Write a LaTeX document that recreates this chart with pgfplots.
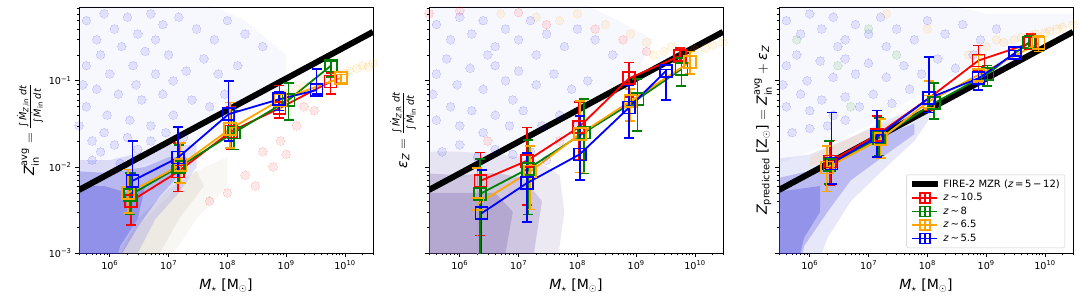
\documentclass[border=0pt]{standalone}
\usepackage{amsmath}
\usepackage{fontspec}
\setmainfont{DejaVu Sans}
\usepackage{pgfplots}
\pgfplotsset{compat=1.18}
\usepackage{pgfplotstable}

\definecolor{mred}{rgb}{1,0,0}
\definecolor{mgreen}{rgb}{0,0.5,0}
\definecolor{morange}{rgb}{1,0.647,0}
\definecolor{mblue}{rgb}{0,0,1}
\definecolor{cloudA}{rgb}{0.40,0.40,0.90}
\definecolor{cloudB}{rgb}{0.40,0.30,0.62}
\definecolor{cloudC}{rgb}{0.22,0.22,0.85}
\definecolor{tail}{rgb}{0.55,0.45,0.3}

\newcommand{\ti}[1]{\text{\itshape #1}}
\newcommand{\tr}[1]{\text{#1}}

% ---------------- panel 1 ----------------
\pgfplotstableread{
x y lo hi
2.3e6 4.0e-3 2.1e-3 8.5e-3
1.45e7 8.8e-3 5.2e-3 0.019
1.15e8 0.0258 0.016 0.050
7.7e8 0.048 0.037 0.088
5.7e9 0.098 0.070 0.123
}\pAred
\pgfplotstableread{
x y lo hi
2.2e6 4.7e-3 2.8e-3 8.5e-3
1.5e7 0.0100 0.0066 0.018
1.3e8 0.025 0.016 0.045
1.1e9 0.060 0.035 0.095
5.8e9 0.150 0.110 0.170
}\pAgreen
\pgfplotstableread{
x y lo hi
2.05e6 5.0e-3 2.9e-3 9.3e-3
1.6e7 0.0105 0.0065 0.019
1.1e8 0.0274 0.0165 0.056
7.9e8 0.060 0.045 0.075
8.5e9 0.108 0.095 0.118
}\pAorange
\pgfplotstableread{
x y lo hi
2.45e6 6.9e-3 4.0e-3 0.020
1.45e7 0.0128 0.0075 0.029
1.05e8 0.041 0.020 0.100
7.6e8 0.061 0.045 0.074
3.3e9 0.078 0.070 0.138
}\pAblue
% ---------------- panel 2 ----------------
\pgfplotstableread{
x y lo hi
2.25e6 6.9e-3 1.6e-3 0.0147
1.4e7 0.0118 3.6e-3 0.0286
1.07e8 0.029 0.012 0.057
7.6e8 0.107 0.065 0.163
5.6e9 0.195 0.170 0.240
}\pBred
\pgfplotstableread{
x y lo hi
2.2e6 4.85e-3 5e-4 0.0123
1.45e7 0.0095 2.8e-3 0.0206
1.3e8 0.025 8.4e-3 0.061
1.05e9 0.061 0.026 0.105
5.9e9 0.137 0.087 0.185
}\pBgreen
\pgfplotstableread{
x y lo hi
2.0e6 3.7e-3 5e-4 9.7e-3
1.57e7 0.0088 3.2e-3 0.0175
1.1e8 0.024 8.6e-3 0.058
8.0e8 0.058 0.034 0.080
8.2e9 0.165 0.120 0.220
}\pBorange
\pgfplotstableread{
x y lo hi
2.36e6 2.9e-3 5e-4 9.2e-3
1.4e7 6.5e-3 2.3e-3 0.0144
1.1e8 0.014 7.1e-3 0.039
7.6e8 0.049 0.0216 0.090
3.2e9 0.130 0.060 0.135
}\pBblue
% ---------------- panel 3 ----------------
\pgfplotstableread{
x y lo hi
2.2e6 0.0115 6.2e-3 0.0202
1.4e7 0.0236 0.0132 0.039
1.07e8 0.063 0.046 0.100
7.4e8 0.172 0.134 0.258
5.7e9 0.274 0.230 0.350
}\pCred
\pgfplotstableread{
x y lo hi
2.15e6 0.0105 6.3e-3 0.020
1.5e7 0.0215 0.0135 0.037
1.3e8 0.055 0.036 0.094
1.05e9 0.120 0.087 0.150
5.4e9 0.280 0.240 0.330
}\pCgreen
\pgfplotstableread{
x y lo hi
1.95e6 9.8e-3 5.2e-3 0.0175
1.6e7 0.021 0.0126 0.036
1.05e8 0.0575 0.047 0.100
7.4e8 0.117 0.095 0.200
7.8e9 0.274 0.220 0.330
}\pCorange
\pgfplotstableread{
x y lo hi
2.35e6 0.011 6.3e-3 0.043
1.4e7 0.0225 0.013 0.045
1.07e8 0.063 0.043 0.190
7.4e8 0.107 0.0785 0.125
3.1e9 0.210 0.195 0.225
}\pCblue

\pgfplotsset{
    width=294pt, height=246pt, scale only axis,
    xmin=3e5, xmax=3e10, ymin=1e-3, ymax=0.72,
    tick pos=left, tick align=outside,
    major tick length=4pt, minor tick length=2.3pt,
    every tick/.append style={black, line width=0.8pt},
    every minor tick/.append style={line width=0.6pt},
    axis line style={line width=0.8pt},
    xtick={1e6,1e7,1e8,1e9,1e10},
    xticklabels={10\textsuperscript{6},10\textsuperscript{7},10\textsuperscript{8},10\textsuperscript{9},10\textsuperscript{10}},
    minor xtick={3e5,4e5,5e5,6e5,7e5,8e5,9e5,2e6,3e6,4e6,5e6,6e6,7e6,8e6,9e6,2e7,3e7,4e7,5e7,6e7,7e7,8e7,9e7,2e8,3e8,4e8,5e8,6e8,7e8,8e8,9e8,2e9,3e9,4e9,5e9,6e9,7e9,8e9,9e9,2e10,3e10},
    ytick={1e-3,1e-2,1e-1},
    minor ytick={2e-3,3e-3,4e-3,5e-3,6e-3,7e-3,8e-3,9e-3,2e-2,3e-2,4e-2,5e-2,6e-2,7e-2,8e-2,9e-2,2e-1,3e-1,4e-1,5e-1,6e-1,7e-1},
    tick label style={font=\fontsize{9.6}{11}\selectfont},
    label style={font=\fontsize{14}{16}\selectfont},
    xlabel={$\ti{M}_\star$ [M$_\odot$]},
    xlabel style={at={(axis description cs:0.5,-0.134)}, anchor=center},
}
\pgfplotsset{
  /pgfplots/errleg/.style={legend image code/.code={%
    \draw[##1, mark=none] (0pt,0pt) -- (25pt,0pt);
    \draw[##1, mark=none] (12.5pt,-5pt) -- (12.5pt,5pt);
    \draw[##1, mark size=5pt] plot coordinates {(12.5pt,0pt)};}},
  /pgfplots/lineleg/.style={legend image code/.code={%
    \draw[##1] (0pt,0pt) -- (26pt,0pt);}},
  /pgfplots/dots/.style={only marks, mark=*, mark size=4.3pt, forget plot, color=#1,
    mark options={fill=#1, draw=#1, line width=0pt, opacity=0.09}},
  /pgfplots/blob/.style={draw=none, fill=#1, forget plot},
  /pgfplots/ser/.style={color=#1, line width=1.8pt, mark=square, mark size=6pt,
    mark options={solid, fill=none, line width=1.6pt}},
  /pgfplots/eb/.style={error bars/y dir=both, error bars/y explicit,
    error bars/error bar style={line width=1.6pt},
    error bars/error mark options={rotate=90, line width=1.6pt, mark size=5pt}},
}

\begin{document}
\begin{tikzpicture}
\useasboundingbox (-79pt,-49pt) rectangle (1001pt,253pt);

% ================= Panel 1 =================
\begin{loglogaxis}[at={(0pt,0pt)}, anchor=south west,
  yticklabels={10\textsuperscript{−3},10\textsuperscript{−2},10\textsuperscript{−1}},
  ylabel={$\ti{Z}^{\tr{avg}}_{\tr{in}} = \frac{\tr{∫}\,\dot{\ti{M}}_{\ti{Z},\tr{in}}\;\ti{dt}}{\tr{∫}\,\dot{\ti{M}}_{\tr{in}}\;\ti{dt}}$},
  ylabel style={at={(axis description cs:-0.167,0.5)}, anchor=center}]
\addplot[blob=cloudA, fill opacity=0.05] coordinates {(2e5,6e-3) (2e5,0.9) (3e7,0.9) (2e8,0.5) (1e9,0.2) (1e9,0.08) (1e8,0.03) (1e7,0.013) (1e6,0.008) (2e5,6e-3)};
\addplot[dots=mblue] coordinates {(4e5,0.5) (6e5,0.3) (8e5,0.6) (1.2e6,0.4) (2e6,0.55) (3e6,0.35) (5e6,0.6) (8e6,0.45) (1.5e7,0.55) (3e7,0.4) (6e7,0.3) (1e8,0.5) (2e8,0.35) (4e8,0.25) (4e5,0.15) (7e5,0.2) (1e6,0.12) (1.6e6,0.25) (2.5e6,0.15) (4e6,0.22) (6e6,0.12) (1e7,0.2) (2e7,0.13) (4e7,0.18) (7e7,0.12) (1.5e8,0.15) (4e5,0.05) (6e5,0.08) (9e5,0.04) (1.4e6,0.07) (2.2e6,0.035) (3.5e6,0.06) (5e6,0.03) (8e6,0.07) (1.2e7,0.04) (2.5e7,0.06) (5e7,0.05) (9e7,0.07) (5e5,0.02) (8e5,0.025) (1.2e6,0.018) (2e6,0.022) (3e6,0.016) (5e6,0.02) (9e6,0.025) (1.8e7,0.022) (3.5e5,0.09) (5e5,0.012) (7e5,0.015) (1.5e6,0.011) (3e5,0.03) (2.8e6,0.09) (6e6,0.3) (1.2e7,0.1)};
\addplot[dots=mred] coordinates {(2e8,0.008) (4e8,0.015) (8e8,0.02) (1.5e9,0.03) (3e9,0.045) (6e8,0.01) (1e8,0.005) (2e9,0.05) (5e7,0.004) (3e8,0.006) (1e9,0.014)};
\addplot[dots=morange] coordinates {(1e9,0.07) (2e9,0.085) (4e9,0.1) (7e9,0.12) (1.2e10,0.13) (2e10,0.15) (3e10,0.16) (1.5e9,0.08) (3e9,0.09) (6e9,0.11) (1e10,0.12) (1.6e10,0.14) (2.5e10,0.145)};
\addplot[blob=tail, fill opacity=0.06] coordinates {(5e5,4e-4) (2e6,1.5e-3) (8e6,4e-3) (3e7,9e-3) (1e8,0.013) (1e8,6e-3) (3e7,2.5e-3) (1e7,8e-4) (6e6,4e-4)};
\addplot[blob=tail, fill opacity=0.1] coordinates {(8e5,4e-4) (3e6,2.5e-3) (1e7,5.5e-3) (3e7,9e-3) (4e7,6e-3) (1.5e7,2.5e-3) (6e6,8e-4) (4e6,4e-4)};
\addplot[blob=cloudC, fill opacity=0.15] coordinates {(2e5,4e-4) (2e5,0.012) (1e6,0.012) (4e6,0.015) (1e7,0.018) (3e7,0.018) (3e7,0.01) (1.5e7,0.005) (6e6,0.0025) (3e6,1e-3) (1.5e6,4e-4)};
\addplot[blob=cloudC, fill opacity=0.25] coordinates {(2e5,4e-4) (2e5,9e-3) (1e6,8.5e-3) (4e6,0.01) (1e7,0.013) (2e7,0.013) (1.5e7,8e-3) (7e6,4.5e-3) (3e6,2e-3) (1.5e6,9e-4) (1e6,4e-4)};
\addplot[blob=cloudC, fill opacity=0.3] coordinates {(2e5,4e-4) (2e5,6e-3) (8e5,6e-3) (2e6,5e-3) (4e6,6e-3) (3e6,2.5e-3) (1.5e6,1.2e-3) (9e5,4e-4)};
\addplot[black, line width=6pt, forget plot] coordinates {(3e5,5.4e-3) (3e10,0.37)};
\addplot[ser=mred, eb] table[x=x, y=y, y error plus expr=\thisrow{hi}-\thisrow{y}, y error minus expr=\thisrow{y}-\thisrow{lo}] {\pAred};
\addplot[ser=mgreen, eb] table[x=x, y=y, y error plus expr=\thisrow{hi}-\thisrow{y}, y error minus expr=\thisrow{y}-\thisrow{lo}] {\pAgreen};
\addplot[ser=morange, eb] table[x=x, y=y, y error plus expr=\thisrow{hi}-\thisrow{y}, y error minus expr=\thisrow{y}-\thisrow{lo}] {\pAorange};
\addplot[ser=mblue, eb] table[x=x, y=y, y error plus expr=\thisrow{hi}-\thisrow{y}, y error minus expr=\thisrow{y}-\thisrow{lo}] {\pAblue};
\end{loglogaxis}

% ================= Panel 2 =================
\begin{loglogaxis}[at={(350pt,0pt)}, anchor=south west,
  yticklabels={,,},
  ylabel={$\ti{ε}_{\ti{Z}} = \frac{\tr{∫}\,\dot{\ti{M}}_{\ti{Z},\tr{R}}\;\ti{dt}}{\tr{∫}\,\dot{\ti{M}}_{\tr{in}}\;\ti{dt}}$},
  ylabel style={at={(axis description cs:-0.088,0.5)}, anchor=center}]
\addplot[blob=cloudA, fill opacity=0.05] coordinates {(2e5,6e-3) (2e5,0.9) (8e7,0.9) (5e8,0.5) (2e9,0.3) (1e9,0.12) (2e8,0.04) (5e7,0.015) (1e7,0.01) (2e5,6e-3)};
\addplot[dots=mblue] coordinates {(4e5,0.45) (7e5,0.3) (1e6,0.55) (1.6e6,0.35) (2.5e6,0.5) (4e6,0.25) (6e6,0.4) (1e7,0.3) (1.6e7,0.5) (3e7,0.35) (6e7,0.25) (1e8,0.4) (2e8,0.3) (4e8,0.2) (4e5,0.12) (6e5,0.18) (9e5,0.09) (1.5e6,0.14) (2.5e6,0.08) (4e6,0.15) (6e6,0.1) (1e7,0.13) (2e7,0.09) (4e7,0.12) (8e7,0.08) (1.5e8,0.1) (4e5,0.035) (7e5,0.05) (1e6,0.03) (1.6e6,0.045) (2.5e6,0.025) (4e6,0.04) (7e6,0.03) (1.2e7,0.045) (2.5e7,0.03) (5e7,0.04) (1e8,0.03) (5e5,0.015) (1e6,0.018) (2e6,0.013) (4e6,0.016) (8e6,0.014) (1.6e7,0.015) (3e7,0.012) (3.5e5,0.07) (3e6,0.2) (8e6,0.06) (2e7,0.2)};
\addplot[dots=morange] coordinates {(5e6,0.6) (2e7,0.55) (5e7,0.5) (1e8,0.6) (3e8,0.45) (8e8,0.35) (1.5e9,0.28) (3e9,0.22) (6e9,0.22) (1e10,0.23) (2e10,0.26) (3e10,0.28) (4e9,0.25) (1.5e10,0.24) (2e9,0.2)};
\addplot[dots=mred] coordinates {(3e5,0.6) (1e6,0.65) (1e7,0.62) (3e7,0.45) (2e8,0.4) (6e8,0.3) (1.5e9,0.22) (3e6,0.02) (5e7,0.02)};
\addplot[blob=cloudB, fill opacity=0.12] coordinates {(2e5,4e-4) (2e5,0.015) (1e6,0.015) (5e6,0.014) (2e7,0.012) (5e7,0.008) (6e7,0.003) (4e7,4e-4)};
\addplot[blob=cloudB, fill opacity=0.22] coordinates {(2e5,4e-4) (2e5,8.5e-3) (1e6,8e-3) (4e6,8.5e-3) (1.2e7,7.5e-3) (2.5e7,4e-3) (2e7,1.5e-3) (1.5e7,4e-4)};
\addplot[blob=cloudB, fill opacity=0.25] coordinates {(2e5,4e-4) (2e5,5e-3) (1e6,5e-3) (4e6,5e-3) (8e6,3e-3) (6e6,1e-3) (5e6,4e-4)};
\addplot[black, line width=6pt, forget plot] coordinates {(3e5,5.4e-3) (3e10,0.37)};
\addplot[ser=mred, eb] table[x=x, y=y, y error plus expr=\thisrow{hi}-\thisrow{y}, y error minus expr=\thisrow{y}-\thisrow{lo}] {\pBred};
\addplot[ser=mgreen, eb] table[x=x, y=y, y error plus expr=\thisrow{hi}-\thisrow{y}, y error minus expr=\thisrow{y}-\thisrow{lo}] {\pBgreen};
\addplot[ser=morange, eb] table[x=x, y=y, y error plus expr=\thisrow{hi}-\thisrow{y}, y error minus expr=\thisrow{y}-\thisrow{lo}] {\pBorange};
\addplot[ser=mblue, eb] table[x=x, y=y, y error plus expr=\thisrow{hi}-\thisrow{y}, y error minus expr=\thisrow{y}-\thisrow{lo}] {\pBblue};
\end{loglogaxis}

% ================= Panel 3 =================
\begin{loglogaxis}[at={(700pt,0pt)}, anchor=south west,
  yticklabels={,,},
  ylabel={$\ti{Z}_{\tr{predicted}}$ [Z$_\odot$] $= \ti{Z}^{\tr{avg}}_{\tr{in}} + \ti{ε}_{\ti{Z}}$},
  ylabel style={at={(axis description cs:-0.054,0.5)}, anchor=center},
  legend style={at={(0.973,0.02)}, anchor=south east, draw=black!20, rounded corners=2pt,
    fill=white, fill opacity=0.85, text opacity=1,
    font=\fontsize{10}{12}\selectfont, row sep=0.6pt, inner sep=3pt},
  legend cell align=left]
\addplot[blob=cloudA, fill opacity=0.05] coordinates {(2e5,0.01) (2e5,0.9) (1e8,0.9) (1e9,0.6) (3e10,0.6) (3e10,0.45) (2e9,0.25) (3e8,0.12) (5e7,0.06) (1e7,0.03) (1e6,0.015) (2e5,0.01)};
\addplot[dots=mblue] coordinates {(4e5,0.5) (7e5,0.35) (1e6,0.6) (1.6e6,0.4) (2.5e6,0.55) (4e6,0.3) (6e6,0.45) (1e7,0.35) (1.6e7,0.55) (3e7,0.4) (6e7,0.3) (1e8,0.5) (2e8,0.35) (4e8,0.45) (8e8,0.3) (1.5e9,0.4) (4e5,0.15) (6e5,0.2) (9e5,0.1) (1.5e6,0.17) (2.5e6,0.11) (4e6,0.18) (6e6,0.12) (1e7,0.16) (2e7,0.11) (4e7,0.15) (8e7,0.12) (1.5e8,0.18) (3e8,0.14) (4e5,0.05) (7e5,0.07) (1e6,0.045) (1.6e6,0.06) (2.5e6,0.04) (4e6,0.065) (7e6,0.05) (1.2e7,0.07) (2.5e7,0.055) (5e7,0.08) (5e5,0.025) (1e6,0.028) (2e6,0.03) (4e6,0.035) (3.5e5,0.09) (3e6,0.25) (2e7,0.25) (6e8,0.2)};
\addplot[dots=morange] coordinates {(1e9,0.25) (2e9,0.28) (4e9,0.32) (7e9,0.35) (1.2e10,0.38) (2e10,0.42) (3e10,0.45) (1.5e9,0.3) (3e9,0.3) (6e9,0.33) (1e10,0.36) (1.6e10,0.4) (5e8,0.2) (2e7,0.6) (1e8,0.4)};
\addplot[dots=mgreen] coordinates {(6e5,0.3) (3e6,0.15) (1e7,0.4) (5e6,0.05) (3e7,0.2)};
\addplot[blob=cloudC, fill opacity=0.12] coordinates {(2e5,4e-4) (2e5,0.012) (1e6,0.014) (5e6,0.022) (2e7,0.035) (8e7,0.05) (1.2e8,0.04) (6e7,0.02) (2e7,0.01) (5e6,4e-3) (2e6,1.5e-3) (1e6,4e-4)};
\addplot[blob=cloudC, fill opacity=0.25] coordinates {(2e5,4e-4) (2e5,7e-3) (1e6,9e-3) (5e6,0.015) (2e7,0.024) (6e7,0.032) (6e7,0.024) (2e7,0.014) (5e6,7e-3) (2e6,3e-3) (8e5,1.2e-3) (6e5,4e-4)};
\addplot[blob=cloudC, fill opacity=0.3] coordinates {(2e5,4e-4) (2e5,5e-3) (6e5,5.5e-3) (1.5e6,6e-3) (1.5e6,3e-3) (8e5,1.5e-3) (5e5,4e-4)};
\addplot[blob=morange, fill opacity=0.12] coordinates {(1e6,0.01) (5e6,0.017) (2e7,0.026) (6e7,0.036) (6e7,0.045) (2e7,0.032) (5e6,0.022) (1e6,0.013)};
\addplot[black, line width=6pt, lineleg] coordinates {(3e5,5.4e-3) (3e10,0.37)};
\addlegendentry{FIRE-2 MZR (\textit{z}\,=\,5\,−\,12)}
\addplot[ser=mred, errleg, eb] table[x=x, y=y, y error plus expr=\thisrow{hi}-\thisrow{y}, y error minus expr=\thisrow{y}-\thisrow{lo}] {\pCred};
\addlegendentry{\textit{z}\,∼\,10.5}
\addplot[ser=mgreen, errleg, eb] table[x=x, y=y, y error plus expr=\thisrow{hi}-\thisrow{y}, y error minus expr=\thisrow{y}-\thisrow{lo}] {\pCgreen};
\addlegendentry{\textit{z}\,∼\,8}
\addplot[ser=morange, errleg, eb] table[x=x, y=y, y error plus expr=\thisrow{hi}-\thisrow{y}, y error minus expr=\thisrow{y}-\thisrow{lo}] {\pCorange};
\addlegendentry{\textit{z}\,∼\,6.5}
\addplot[ser=mblue, errleg, eb] table[x=x, y=y, y error plus expr=\thisrow{hi}-\thisrow{y}, y error minus expr=\thisrow{y}-\thisrow{lo}] {\pCblue};
\addlegendentry{\textit{z}\,∼\,5.5}
\end{loglogaxis}
\end{tikzpicture}
\end{document}
